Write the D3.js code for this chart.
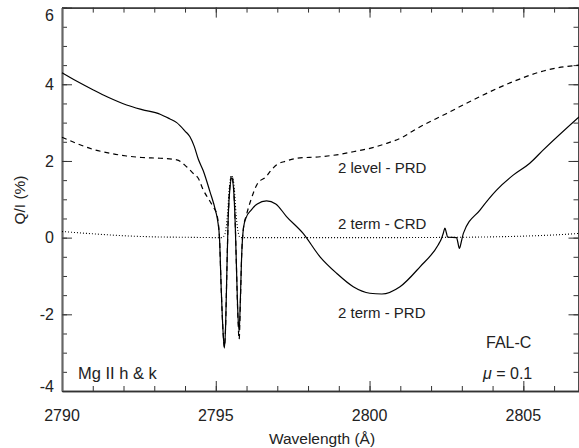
<!DOCTYPE html>
<html>
<head>
<meta charset="utf-8">
<script src="https://cdn.jsdelivr.net/npm/d3@7"></script>
<style>
  body { margin: 0; background: #fff; }
  svg { display: block; }
  text { font-family: "Liberation Sans", Arial, sans-serif; fill: #222; }
</style>
</head>
<body>
<svg width="579" height="448"></svg>
<script>
// 2 term - PRD (solid)
var prdWave = [2790.0, 2790.5, 2791.02, 2791.5, 2792.1, 2792.6, 2793.19, 2793.5, 2793.73, 2794.0, 2794.16, 2794.3,
  2794.43, 2794.59, 2794.81, 2795.0, 2795.06, 2795.12, 2795.18, 2795.24, 2795.28, 2795.32, 2795.36, 2795.4,
  2795.45, 2795.52, 2795.58, 2795.63, 2795.67, 2795.72, 2795.76, 2795.8, 2795.84, 2795.9, 2795.98, 2796.15,
  2796.35, 2796.65, 2796.95, 2797.3, 2797.84, 2798.39, 2798.93, 2799.47, 2800.01, 2800.4, 2800.99, 2801.64,
  2802.23, 2802.34, 2802.4, 2802.45, 2802.5, 2802.54, 2802.83, 2802.87, 2802.92, 2802.98, 2803.05, 2803.59,
  2804.13, 2804.67, 2805.21, 2805.65, 2806.81];
var prdQ = [4.30, 4.07, 3.85, 3.66, 3.46, 3.34, 3.22, 3.10, 3.00, 2.78, 2.63, 2.38,
  2.05, 1.75, 1.20, 0.68, 0.45, 0.0, -1.4, -2.5, -2.88, -2.3, -0.9, 0.4,
  1.2, 1.55, 1.25, 0.4, -0.7, -2.0, -2.45, -1.6, -0.5, 0.25, 0.51, 0.72,
  0.88, 0.96, 0.88, 0.55, 0.11, -0.50, -0.93, -1.28, -1.45, -1.47, -1.28, -0.76,
  -0.19, -0.02, 0.12, 0.25, 0.12, 0.01, 0.0, -0.12, -0.28, -0.12, 0.11, 0.72,
  1.24, 1.63, 1.94, 2.29, 3.15];

// 2 level - PRD (dashed)
var lvlWave = [2790.0, 2790.5, 2791.02, 2791.5, 2792.1, 2792.6, 2793.19, 2793.73, 2794.05, 2794.3, 2794.43, 2794.59,
  2794.81, 2794.92, 2795.03, 2795.08, 2795.12, 2795.18, 2795.24, 2795.28, 2795.32, 2795.36, 2795.4, 2795.45,
  2795.52, 2795.58, 2795.63, 2795.67, 2795.72, 2795.76, 2795.8, 2795.84, 2795.9, 2796.0, 2796.15, 2796.35,
  2796.65, 2796.76, 2796.98, 2797.3, 2797.63, 2798.39, 2798.93, 2799.47, 2800.01, 2800.56, 2801.1, 2801.42,
  2802.51, 2803.59, 2804.67, 2805.76, 2806.81];
var lvlQ = [2.62, 2.45, 2.30, 2.21, 2.13, 2.09, 2.07, 2.03, 1.85, 1.65, 1.55, 1.25,
  0.95, 0.80, 0.62, 0.40, 0.0, -1.4, -2.5, -2.85, -2.3, -0.9, 0.4, 1.25,
  1.63, 1.3, 0.45, -0.7, -2.1, -2.65, -1.7, -0.5, 0.25, 0.6, 1.0, 1.4,
  1.6, 1.72, 1.90, 2.0, 2.07, 2.11, 2.16, 2.24, 2.33, 2.46, 2.63, 2.79,
  3.24, 3.68, 4.07, 4.37, 4.50];

// 2 term - CRD (dotted)
var crdWave = [2790.0, 2791.0, 2792.0, 2793.0, 2794.0, 2795.2, 2795.3, 2795.38, 2795.44, 2795.52, 2795.6, 2795.66,
  2795.74, 2795.8, 2797.0, 2800.0, 2803.0, 2805.0, 2806.0, 2806.81];
var crdQ = [0.16, 0.10, 0.05, 0.02, 0.01, 0.0, 0.1, 0.6, 1.3, 1.62, 1.3, 0.6,
  0.1, 0.0, 0.0, 0.0, 0.01, 0.04, 0.07, 0.11];

var xTicks = [2790, 2795, 2800, 2805];
var yTicks = [-4, -2, 0, 2, 4, 6];

var svg = d3.select("svg");
var plotLeft = 62, plotRight = 579, plotTop = 7.6, plotBottom = 391;

var x = d3.scaleLinear().domain([2790, 2806.81]).range([plotLeft, plotRight]);
var y = d3.scaleLinear().domain([-4, 6]).range([plotBottom, plotTop]);

var axisColor = "#333";

// frame ticks: major and minor on all four sides
function drawAxis(axis, tx, ty) {
  var g = svg.append("g").attr("transform", "translate(" + tx + "," + ty + ")").call(axis);
  g.selectAll("path").attr("stroke", axisColor).attr("stroke-width", 1.3);
  g.selectAll("line").attr("stroke", axisColor).attr("stroke-width", 1);
  g.selectAll("text").remove();
  return g;
}
var xMinor = d3.range(2790, 2807, 1);
var yMinor = d3.range(-4, 6.01, 0.5);

drawAxis(d3.axisBottom(x).tickValues(xMinor).tickSize(-5).tickSizeOuter(0), 0, plotBottom);
drawAxis(d3.axisBottom(x).tickValues(xTicks).tickSize(-10).tickSizeOuter(0), 0, plotBottom);
drawAxis(d3.axisTop(x).tickValues(xMinor).tickSize(-5).tickSizeOuter(0), 0, plotTop);
drawAxis(d3.axisTop(x).tickValues(xTicks).tickSize(-10).tickSizeOuter(0), 0, plotTop);
drawAxis(d3.axisLeft(y).tickValues(yMinor).tickSize(-5).tickSizeOuter(0), plotLeft, 0);
drawAxis(d3.axisLeft(y).tickValues(yTicks).tickSize(-10).tickSizeOuter(0), plotLeft, 0)
  .select("path").attr("stroke", "#666").attr("stroke-width", 2);
drawAxis(d3.axisRight(y).tickValues(yMinor).tickSize(-5).tickSizeOuter(0), plotRight - 0.5, 0);
drawAxis(d3.axisRight(y).tickValues(yTicks).tickSize(-10).tickSizeOuter(0), plotRight - 0.5, 0);

// tick labels (kept inside the frame height like the original)
svg.append("g").selectAll("text").data(xTicks).enter().append("text")
  .attr("x", function(d) { return x(d); })
  .attr("y", 421)
  .attr("text-anchor", "middle")
  .style("font-size", "16px")
  .text(function(d) { return d; });

svg.append("g").selectAll("text").data(yTicks).enter().append("text")
  .attr("x", 54)
  .attr("y", function(d) { return Math.min(Math.max(y(d), 15.5), 386); })
  .attr("dy", "0.36em")
  .attr("text-anchor", "end")
  .style("font-size", "16px")
  .text(function(d) { return d; });

svg.append("text")
  .attr("x", 322).attr("y", 444)
  .attr("text-anchor", "middle")
  .style("font-size", "15.5px")
  .text("Wavelength (Å)");

svg.append("text")
  .attr("transform", "translate(25,200) rotate(-90)")
  .attr("text-anchor", "middle")
  .style("font-size", "15.5px")
  .text("Q/I (%)");

// curves
var line = d3.line()
  .x(function(d) { return x(d[0]); })
  .y(function(d) { return y(d[1]); })
  .curve(d3.curveMonotoneX);

function series(w, q) { return w.map(function(d, i) { return [d, q[i]]; }); }

svg.append("path").datum(series(crdWave, crdQ))
  .attr("d", line).attr("fill", "none").attr("stroke", "#000")
  .attr("stroke-width", 1.1).attr("stroke-dasharray", "1,2");

svg.append("path").datum(series(lvlWave, lvlQ))
  .attr("d", line).attr("fill", "none").attr("stroke", "#000")
  .attr("stroke-width", 1.2).attr("stroke-dasharray", "5,4");

svg.append("path").datum(series(prdWave, prdQ))
  .attr("d", line).attr("fill", "none").attr("stroke", "#000")
  .attr("stroke-width", 1.2);

// annotations
var notes = [
  {t: "2 level - PRD", x: 338, y: 173, s: 15},
  {t: "2 term - CRD", x: 338, y: 229, s: 15},
  {t: "2 term - PRD", x: 338, y: 318, s: 15},
  {t: "FAL-C", x: 486, y: 348, s: 16},
  {t: "Mg II h & k", x: 78, y: 379, s: 16.5}
];
svg.append("g").selectAll("text").data(notes).enter().append("text")
  .attr("x", function(d) { return d.x; })
  .attr("y", function(d) { return d.y; })
  .style("font-size", function(d) { return d.s + "px"; })
  .text(function(d) { return d.t; });

var mu = svg.append("text").attr("x", 483).attr("y", 379).style("font-size", "16px");
mu.append("tspan").style("font-style", "italic").text("μ");
mu.append("tspan").text(" = 0.1");
</script>
</body>
</html>
